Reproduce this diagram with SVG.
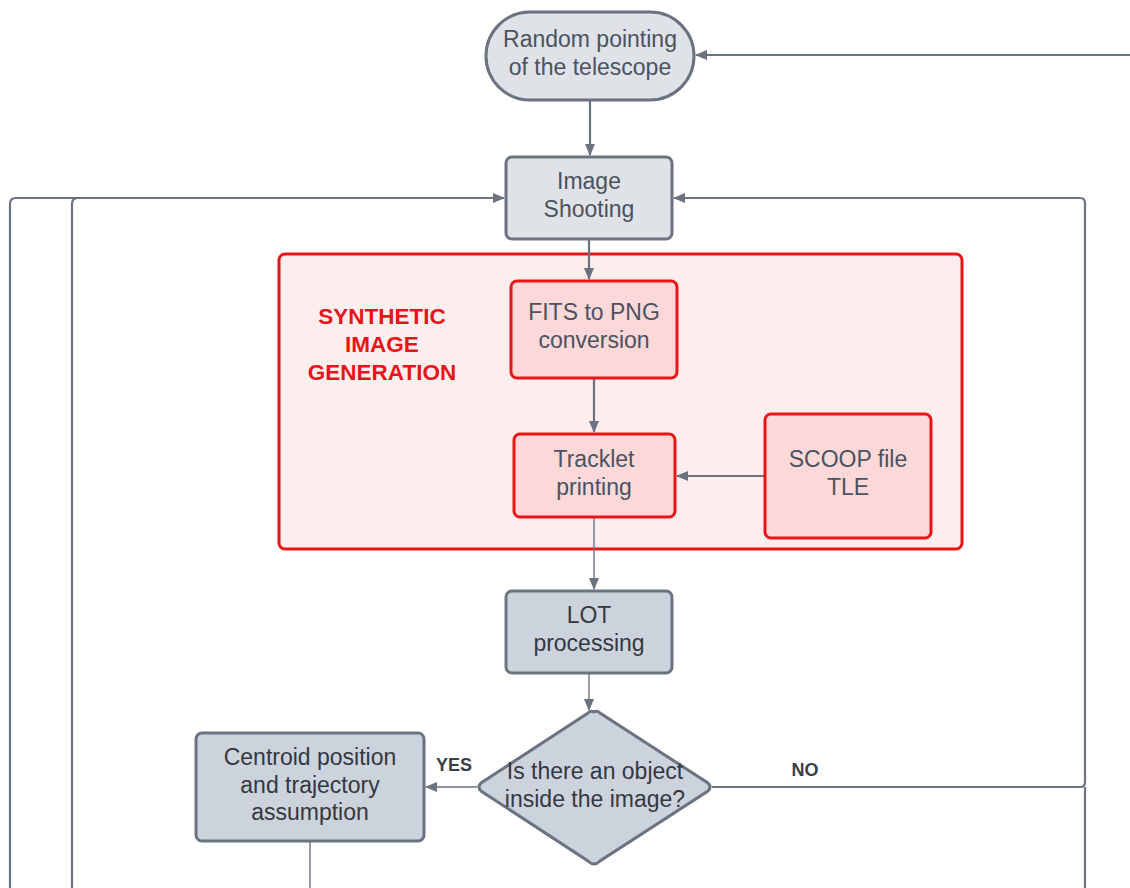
<svg xmlns="http://www.w3.org/2000/svg" width="1130" height="888" viewBox="0 0 1130 888">
  <defs>
    <marker id="arr" viewBox="0 0 12 10" refX="11" refY="5" markerWidth="12" markerHeight="10" markerUnits="userSpaceOnUse" orient="auto">
      <path d="M0,0 L12,5 L0,10 Z" fill="#6b7280"/>
    </marker>
    <style>
      .node { fill: #dfe2e7; stroke: #6b7280; stroke-width: 3; }
      .node2 { fill: #cdd3dc; stroke: #6b7280; stroke-width: 3; }
      .red { fill: #fdd8d8; stroke: #ea1518; stroke-width: 3; }
      .grp { fill: #fdeeee; stroke: #ea1518; stroke-width: 3; }
      .lbl { font-family: "Liberation Sans", Arial, sans-serif; font-size: 23px; fill: #4b5260; text-anchor: middle; }
      .dark { fill: #333840; }
      .title { font-family: "Liberation Sans", Arial, sans-serif; font-size: 22.5px; font-weight: bold; fill: #e8141a; text-anchor: middle; }
      .tag { font-family: "Liberation Sans", Arial, sans-serif; font-size: 18px; font-weight: bold; fill: #3a3f47; text-anchor: middle; }
      .c { fill: none; stroke: #6b7280; stroke-width: 2.2; }
      .thin { fill: none; stroke: #6b7280; stroke-width: 1.4; }
    </style>
  </defs>

  <!-- Synthetic image generation container -->
  <g id="synthetic-group">
    <rect class="grp" x="279" y="254" width="683" height="295" rx="6"/>
    <text class="title" x="382" y="324">SYNTHETIC</text>
    <text class="title" x="382" y="352">IMAGE</text>
    <text class="title" x="382" y="380">GENERATION</text>
  </g>

  <!-- Connectors -->
  <g id="connectors">
    <path class="c" d="M1130,55 L696,55" marker-end="url(#arr)"/>
    <path class="c" d="M590,101 L590,155" marker-end="url(#arr)"/>
    <path class="c" d="M589,240 L589,279" marker-end="url(#arr)"/>
    <path class="c" d="M594,379 L594,432" marker-end="url(#arr)"/>
    <path class="c" d="M765,476 L677,476" marker-end="url(#arr)"/>
    <path class="thin" d="M594,518 L594,589" marker-end="url(#arr)"/>
    <path class="thin" d="M589,674 L589,710" marker-end="url(#arr)"/>
    <path class="thin" d="M477,787 L426,787" marker-end="url(#arr)"/>
    <!-- NO branch back to Image Shooting -->
    <path class="c" d="M712,787 L1080,787 Q1085,787 1085,782 L1085,203 Q1085,198 1080,198 L674,198" marker-end="url(#arr)"/>
    <path class="c" d="M1085,888 L1085,787"/>
    <!-- loops returning from below on the left -->
    <path class="c" d="M10,888 L10,204 Q10,198 16,198 L504,198" marker-end="url(#arr)"/>
    <path class="c" d="M72,888 L72,204 Q72,198 78,198"/>
    <path class="thin" d="M310,842 L310,888"/>
    <text class="tag" x="454" y="771">YES</text>
    <text class="tag" x="805" y="776">NO</text>
  </g>

  <g id="random-pointing">
    <rect class="node" x="486" y="12" width="208" height="88" rx="44"/>
    <text class="lbl" x="590" y="47">Random pointing</text>
    <text class="lbl" x="590" y="75">of the telescope</text>
  </g>

  <g id="image-shooting">
    <rect class="node" x="506" y="157" width="166" height="82" rx="6"/>
    <text class="lbl" x="589" y="189">Image</text>
    <text class="lbl" x="589" y="217">Shooting</text>
  </g>

  <g id="fits-to-png">
    <rect class="red" x="511" y="281" width="166" height="97" rx="6"/>
    <text class="lbl" x="594" y="320">FITS to PNG</text>
    <text class="lbl" x="594" y="348">conversion</text>
  </g>

  <g id="tracklet-printing">
    <rect class="red" x="514" y="434" width="161" height="83" rx="6"/>
    <text class="lbl" x="594" y="467">Tracklet</text>
    <text class="lbl" x="594" y="495">printing</text>
  </g>

  <g id="scoop-file">
    <rect class="red" x="765" y="414" width="166" height="124" rx="6"/>
    <text class="lbl" x="848" y="467">SCOOP file</text>
    <text class="lbl" x="848" y="495">TLE</text>
  </g>

  <g id="lot-processing">
    <rect class="node2" x="506" y="591" width="166" height="82" rx="6"/>
    <text class="lbl dark" x="589" y="623">LOT</text>
    <text class="lbl dark" x="589" y="651">processing</text>
  </g>

  <g id="object-decision">
    <path class="node2" d="M594,712 Q597,710 600,713 L708,783 Q712,787 708,791 L600,861 Q597,864 594,864 Q591,864 588,861 L481,791 Q477,787 481,783 L588,713 Q591,710 594,712 Z"/>
    <text class="lbl dark" x="595" y="779">Is there an object</text>
    <text class="lbl dark" x="595" y="807">inside the image?</text>
  </g>

  <g id="centroid">
    <rect class="node2" x="196" y="733" width="228" height="108" rx="6"/>
    <text class="lbl dark" x="310" y="765">Centroid position</text>
    <text class="lbl dark" x="310" y="793">and trajectory</text>
    <text class="lbl dark" x="310" y="820">assumption</text>
  </g>
</svg>
